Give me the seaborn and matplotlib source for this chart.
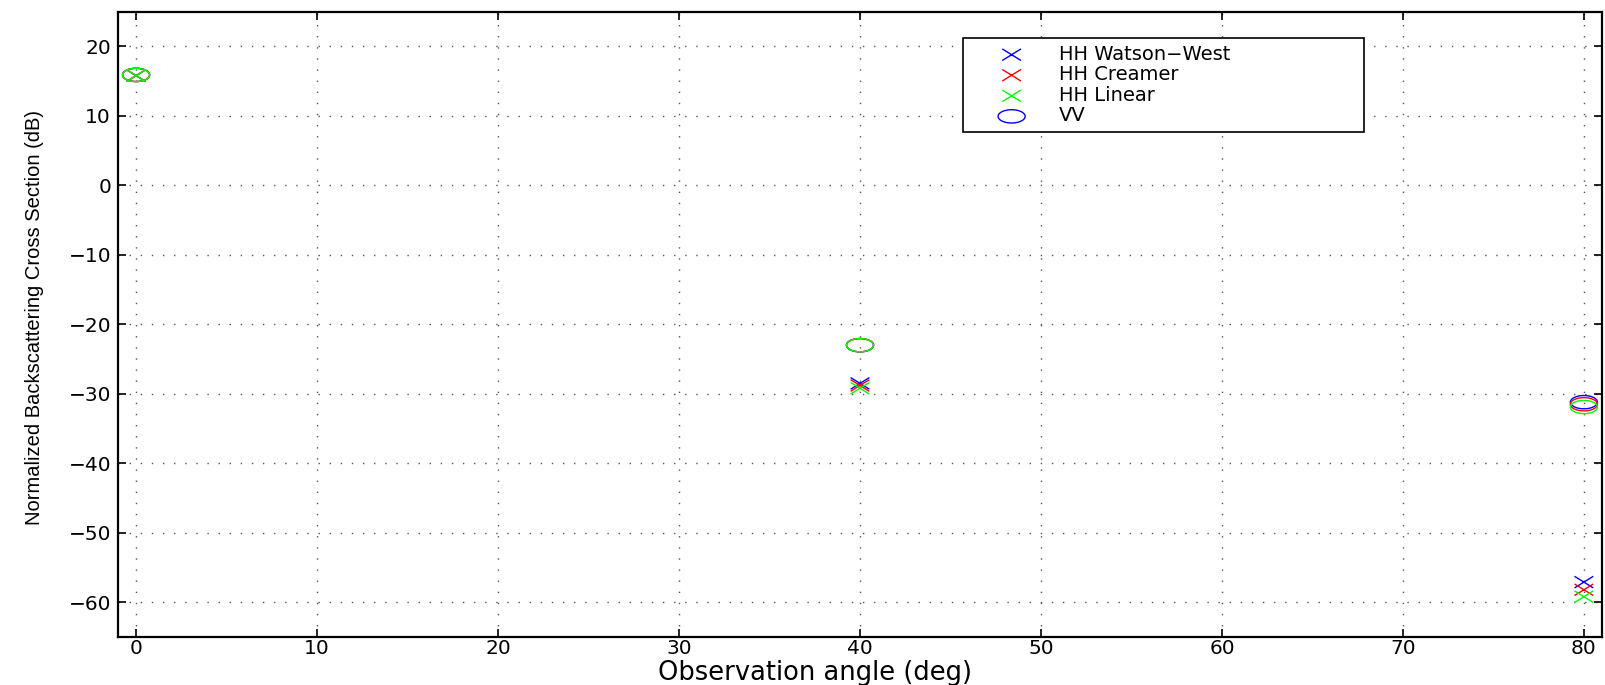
import numpy as np
import matplotlib
matplotlib.use("Agg")
import matplotlib.pyplot as plt
from matplotlib.path import Path
import seaborn as sns
import pandas as pd

# ---- data ----
angles = [0, 40, 80]
hh_watson_west = [15.8, -28.5, -57.1]
hh_creamer = [15.8, -28.8, -58.2]
hh_linear = [15.8, -29.2, -59.2]
vv_watson_west = [15.9, -23.0, -31.2]
vv_creamer = [15.9, -23.0, -31.5]
vv_linear = [15.9, -23.0, -31.9]
x_ticks = [0, 10, 20, 30, 40, 50, 60, 70, 80]
y_ticks = [-60, -50, -40, -30, -20, -10, 0, 10, 20]

sns.set_style("ticks")
plt.rcParams['font.family'] = ['DejaVu Sans']
plt.rcParams['axes.unicode_minus'] = True
plt.rcParams['text.color'] = 'black'
plt.rcParams['axes.labelcolor'] = 'black'
plt.rcParams['xtick.color'] = 'black'
plt.rcParams['ytick.color'] = 'black'

fig = plt.figure(figsize=(16.06, 6.85), dpi=100)
ax = fig.add_axes([118/1606, 1-637/685, (1602-118)/1606, (637-11.7)/685])

# stretched marker shapes (the original figure is horizontally stretched)
t = np.linspace(0, 2*np.pi, 60)
ellipse = Path(np.column_stack([np.cos(t), 0.49*np.sin(t)]), closed=True)
cross = Path([(-1, -0.62), (1, 0.62), (-1, 0.62), (1, -0.62)],
             [Path.MOVETO, Path.LINETO, Path.MOVETO, Path.LINETO])

ms_circ = 19.5
ms_cross = 13.5

series = [
    (hh_watson_west, vv_watson_west, (0, 0, 1), "HH Watson\u2212West"),
    (hh_creamer, vv_creamer, (1, 0, 0), "HH Creamer"),
    (hh_linear, vv_linear, (0, 1, 0), "HH Linear"),
]
handles = {}
for hh, vv, col, lab in series:
    df_h = pd.DataFrame({"angle": angles, "val": hh})
    df_v = pd.DataFrame({"angle": angles, "val": vv})
    sns.scatterplot(data=df_h, x="angle", y="val", marker=cross, s=ms_cross**2,
                    facecolor="none", edgecolor=col, linewidth=1.0, ax=ax,
                    legend=False, zorder=3)
    hcross = ax.collections[-1]
    sns.scatterplot(data=df_v, x="angle", y="val", marker=ellipse, s=ms_circ**2,
                    facecolor="none", edgecolor=col, linewidth=1.0, ax=ax,
                    legend=False, zorder=3)
    hcirc = ax.collections[-1]
    handles[lab] = hcross
    if col == (0, 0, 1):
        handles["VV"] = hcirc

ax.set_xlim(-1, 81)
ax.set_ylim(-65, 25)
ax.set_xticks(x_ticks)
ax.set_yticks(y_ticks)
ax.grid(True, linestyle=(0, (1, 7)), color="#555555", linewidth=1.0)
for sp in ax.spines.values():
    sp.set_visible(True)
    sp.set_color("black")
    sp.set_linewidth(1.6)
ax.tick_params(direction="in", length=6, width=1.2, top=True, right=True,
               labelsize=14.5, colors="black", pad=5)
ax.tick_params(axis="x", pad=1.5)

ax.set_xlabel("Observation angle (deg)", fontsize=18.5)
ax.xaxis.set_label_coords(0.47, -(660-637)/625.3, transform=ax.transAxes)
ax.xaxis.label.set_va("top")
ax.set_ylabel("Normalized Backscattering Cross Section (dB)", fontsize=14.5,
              family=["Liberation Sans"])
ax.yaxis.set_label_coords((44-118)/1484, (637-317.5)/625.3, transform=ax.transAxes)

order = ["HH Watson\u2212West", "HH Creamer", "HH Linear", "VV"]
x0 = (963-118)/1484
w = (1364-963)/1484
ytop = (637-38)/625.3
ybot = (637-127)/625.3
leg = ax.legend([handles[k] for k in order], order, loc="upper left",
                bbox_to_anchor=(x0, ybot, w, ytop-ybot), mode="expand",
                borderaxespad=0, fontsize=14, frameon=True, fancybox=False,
                framealpha=1, edgecolor="black", borderpad=0.35,
                handlelength=4.3, handletextpad=0.3, labelspacing=0.08,
                scatterpoints=1)
leg.get_frame().set_linewidth(1.2)

fig.savefig("out.png", dpi=100)
